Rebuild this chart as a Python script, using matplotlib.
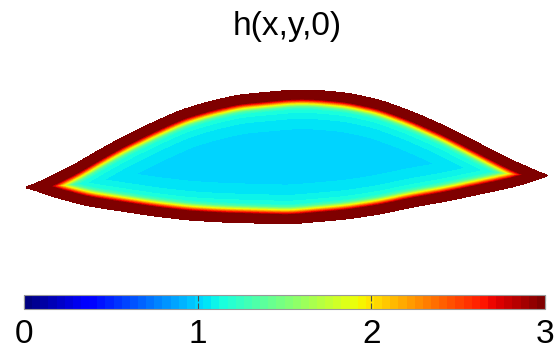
import numpy as np
import matplotlib.pyplot as plt

plt.rcParams['font.family'] = ['Liberation Sans', 'DejaVu Sans']

# outline of the drop, x along, y across
top_x = [0.0, 2.8, 4.8, 6.8, 9.5, 12.8, 15.5, 18.2, 21.2, 24.5, 26.5, 28.8, 32.2, 35.5, 38.8, 42.2, 45.5, 48.8, 50.5, 52.2]
top_y = [0.0, 1.3, 2.3, 3.5, 5.0, 6.6, 7.8, 8.6, 9.3, 9.6, 9.8, 9.8, 9.5, 8.8, 7.6, 6.1, 4.4, 2.7, 2.0, 1.2]
bot_x = [0.0, 2.8, 6.2, 9.5, 12.8, 16.2, 19.5, 22.8, 26.5, 28.8, 32.2, 35.5, 38.8, 42.2, 45.5, 48.8, 51.5, 52.2]
bot_y = [0.0, -1.0, -1.9, -2.4, -2.9, -3.3, -3.5, -3.6, -3.7, -3.5, -3.2, -2.7, -2.0, -1.4, -0.7, 0.0, 0.8, 1.2]

# h against distance from the rim
dist = [0.0, 0.95, 1.15, 1.35, 1.55, 1.75, 2.05, 2.9, 4.0, 8.0]
hval = [3.3, 3.0, 2.6, 2.1, 1.7, 1.35, 1.15, 1.08, 1.03, 1.0]

cticks = [0, 1, 2, 3]


def smooth_edge(xp, yp, xq, w=0.7):
    y = np.interp(xq, xp, yp)
    dx = xq[1] - xq[0]
    n = int(3 * w / dx)
    k = np.exp(-0.5 * (np.arange(-n, n + 1) * dx / w) ** 2)
    k /= k.sum()
    ypad = np.r_[np.full(n, y[0]), y, np.full(n, y[-1])]
    return np.convolve(ypad, k, mode='valid')


def make_field():
    xs = np.arange(-1.0, 54.0, 0.1)
    ys = np.arange(-5.0, 11.0, 0.1)
    X, Y = np.meshgrid(xs, ys)
    xr = np.linspace(0, top_x[-1], 1200)
    yt = smooth_edge(top_x, top_y, xr)
    yb = smooth_edge(bot_x, bot_y, xr)
    yt[0] = yb[0] = top_y[0]
    yt[-1] = yb[-1] = top_y[-1]
    rim = np.vstack([np.r_[xr, xr], np.r_[yt, yb]]).T
    pts = np.vstack([X.ravel(), Y.ravel()]).T
    d = np.empty(len(pts))
    for i in range(0, len(pts), 4000):
        p = pts[i:i + 4000]
        dd = np.hypot(p[:, None, 0] - rim[None, :, 0], p[:, None, 1] - rim[None, :, 1])
        d[i:i + 4000] = dd.min(axis=1)
    d = d.reshape(X.shape)
    inside = (Y <= np.interp(X, xr, yt)) & (Y >= np.interp(X, xr, yb)) & (X >= 0) & (X <= xr[-1])
    H = np.interp(d, dist, hval)
    H[~inside] = np.nan
    return xs, ys, H


xs, ys, H = make_field()

fig = plt.figure(figsize=(5.57, 3.53), dpi=100)
ax = fig.add_axes([0, 1 - 245 / 353, 1, 185 / 353])
cmap = plt.get_cmap('jet', 64)
im = ax.imshow(H, origin='lower', extent=[xs[0], xs[-1] + 0.1, ys[0], ys[-1] + 0.1],
               cmap=cmap, vmin=0, vmax=3, interpolation='nearest', aspect='auto')
ax.set_xlim(-2.5, 53.2)
ax.set_ylim(-5.7, 12.8)
ax.axis('off')

fig.text(287 / 557, 1 - 26 / 353, 'h(x,y,0)', ha='center', va='center', fontsize=24)

cax = fig.add_axes([24 / 557, 1 - 309 / 353, 521 / 557, 14 / 353])
cb = fig.colorbar(im, cax=cax, orientation='horizontal', ticks=cticks)
cb.outline.set_edgecolor('0.6')
cb.outline.set_linewidth(0.8)
cax.tick_params(direction='in', top=True, length=4, width=0.8, color='0.3',
                labelsize=24, pad=7)

fig.savefig('out.png', dpi=100)
